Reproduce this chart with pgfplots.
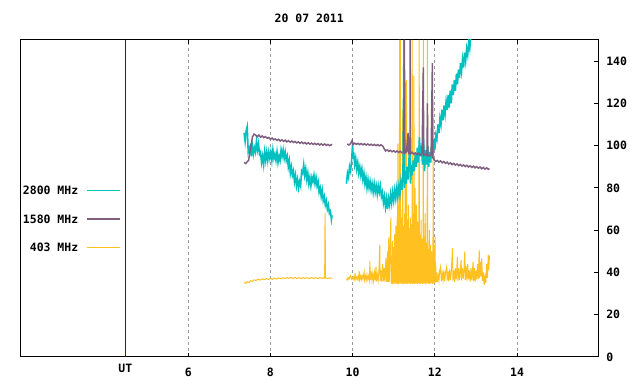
\documentclass[border=0pt]{standalone}
\usepackage{fontspec}
\setmainfont{DejaVu Sans Mono}
\usepackage{pgfplots}
\pgfplotsset{compat=1.18}
\definecolor{cyanc}{HTML}{00C0C0}
\definecolor{purplec}{HTML}{7F5F7F}
\definecolor{yellowc}{HTML}{FFC020}
\definecolor{utred}{HTML}{8B0000}
\definecolor{gridc}{HTML}{999999}
\newcommand{\gfont}{\fontsize{8.6pt}{10pt}\selectfont\bfseries}
\begin{document}
\gfont
\begin{tikzpicture}
\path[use as bounding box] (0,0) rectangle (480pt,288pt);
\begin{axis}[
  at={(15.375pt,20.25pt)}, anchor=south west,
  scale only axis, width=433.125pt, height=237.75pt,
  xmin=1.92, xmax=15.97, ymin=0, ymax=150,
  axis line style={line width=0.75pt},
  xtick={6,8,10,12,14},
  ytick={0,20,...,140},
  ytick pos=right, yticklabel pos=right,
  tick align=inside,
  major tick length=3pt,
  tick style={black, line width=0.75pt},
  xmajorgrids,
  grid style={gridc, dash pattern=on 2.25pt off 2.25pt, line width=0.75pt},
  extra x ticks={4.47}, extra x tick labels={UT},
  extra x tick style={grid=major, major grid style={utred, solid, line width=0.75pt}, major tick length=0pt, xticklabel style={yshift=3pt}},
  /pgf/number format/assume math mode=true,
  ticklabel style={font=\gfont},
  xticklabel style={anchor=center, inner sep=0pt, yshift=-11.25pt},
  yticklabel style={anchor=west, inner sep=0pt, xshift=6pt},
  title={20 07 2011},
  title style={at={(0.5,1)}, anchor=center, inner sep=0pt, yshift=10.5pt, font=\gfont},
  legend plot pos=right,
  legend cell align=right,
  legend style={at={(0.174,0.435)}, anchor=east, draw=none, fill=none, inner sep=0pt,
    row sep=11.4pt, column sep=5pt, font=\gfont,
    nodes={inner sep=1pt, text height=7pt, text depth=1pt}},
  legend image code/.code={\draw[#1, line width=0.9pt] (0pt,0pt) -- (25pt,0pt);},
  unbounded coords=jump,
]
% 403 MHz (drawn first, underneath)
\addplot[yellowc, line width=0.75pt, forget plot] coordinates {
(7.360,35.5) (7.400,34.8) (7.440,35.6) (7.480,35.2) (7.520,36.1) (7.560,35.8) (7.600,36.5) (7.650,36.2)
(7.700,36.8) (7.750,36.4) (7.800,37) (7.850,36.6) (7.900,37.1) (7.950,36.7) (8.000,37.2) (8.050,36.8)
(8.100,37.3) (8.150,36.9) (8.200,37.4) (8.250,37) (8.300,37.5) (8.350,37.1) (8.400,37.6) (8.450,37.2)
(8.500,37.7) (8.550,37.2) (8.600,37.6) (8.650,37.1) (8.700,37.5) (8.750,37.1) (8.800,37.6) (8.850,37.2)
(8.900,37.5) (8.950,37.1) (9.000,37.6) (9.050,37.2) (9.100,37.5) (9.150,37.1) (9.200,37.6) (9.250,37.2)
(9.300,37.5) (9.320,37.3) (9.330,68) (9.340,37.4) (9.400,37.1) (9.450,37.5) (9.500,37.2)
(9.600,nan)
(9.850,37) (9.870,36.5) (9.890,37.5) (9.910,36.8) (9.930,37.8) (9.950,38.5) (9.970,36.9) (9.990,37.6)
(10.010,36.7) (10.030,38) (10.050,36.8) (10.060,39.7) (10.070,36.9) (10.090,37.8) (10.110,36.6) (10.130,38.2)
(10.150,36.8) (10.160,40.7) (10.170,36.7) (10.190,38.3) (10.210,36.5) (10.230,38.6) (10.250,36.9) (10.280,40)
(10.290,36.6) (10.310,38.5) (10.330,36.4) (10.350,39) (10.370,36.6) (10.390,38.4) (10.410,36.3) (10.420,45.4)
(10.430,36.5) (10.450,40.5) (10.470,36.2) (10.490,39.5) (10.510,36) (10.530,40) (10.550,36.3) (10.570,42.7)
(10.580,35.8) (10.600,39) (10.620,36.1) (10.640,40.5) (10.660,53) (10.670,35.8) (10.690,41) (10.710,35.6)
(10.730,44) (10.750,35.9) (10.770,42) (10.790,35.5) (10.810,47) (10.830,35.7) (10.850,50) (10.860,35.4)
(10.880,56.6) (10.890,35.6) (10.910,48) (10.930,66) (10.940,35.2)
(10.950,35) (10.958,48) (10.966,34.5) (10.974,55) (10.982,35.5) (10.990,44) (10.998,34.8) (11.006,52)
(11.014,35.2) (11.022,58) (11.030,34.6) (11.038,47) (11.046,35.4) (11.054,62) (11.062,34.7) (11.070,53)
(11.078,35.3) (11.086,66) (11.094,34.5) (11.100,101) (11.106,35) (11.114,60) (11.122,34.6) (11.130,72)
(11.138,35.2) (11.142,150) (11.146,34.8) (11.154,58) (11.160,150) (11.166,35.1) (11.174,66) (11.182,34.6)
(11.190,54) (11.198,35.3) (11.206,70) (11.214,34.5) (11.220,117) (11.226,35) (11.234,62) (11.242,34.7)
(11.250,57) (11.258,35.4) (11.266,68) (11.274,34.6) (11.280,130) (11.286,35.1) (11.294,60) (11.302,34.8)
(11.310,131) (11.318,35.2) (11.326,65) (11.334,34.5) (11.342,52) (11.350,35.3) (11.358,72) (11.366,34.7)
(11.374,61) (11.382,35.2) (11.390,55) (11.398,34.6) (11.406,66) (11.414,35) (11.422,50) (11.430,34.8)
(11.438,63) (11.446,35.3) (11.450,150) (11.456,34.6) (11.464,58) (11.472,35.1) (11.480,68) (11.488,34.7)
(11.492,133) (11.498,35.2) (11.506,54) (11.514,34.5) (11.522,80) (11.530,35) (11.538,60) (11.546,34.8)
(11.554,72) (11.562,35.3) (11.570,57) (11.578,34.6) (11.586,64) (11.594,35.1) (11.602,50) (11.610,34.7)
(11.620,150) (11.626,35.2) (11.634,58) (11.642,34.6) (11.650,52) (11.658,35) (11.666,65) (11.674,34.8)
(11.682,48) (11.690,35.3) (11.698,56) (11.706,34.6) (11.714,46) (11.720,150) (11.726,35.1) (11.734,57)
(11.742,34.7) (11.750,50) (11.758,35.2) (11.766,68) (11.774,34.5) (11.782,47) (11.790,35) (11.798,54)
(11.806,34.8) (11.814,45) (11.820,150) (11.826,35.3) (11.834,51) (11.842,34.6) (11.850,44) (11.858,35.1)
(11.866,60) (11.874,34.7) (11.882,46) (11.890,35.2) (11.898,53) (11.906,34.8) (11.914,45) (11.922,35.3)
(11.930,50) (11.938,34.6) (11.946,44) (11.954,35.1) (11.960,113) (11.966,34.8) (11.974,49) (11.982,35.2)
(11.990,53) (11.998,34.7) (12.006,57) (12.014,35.3) (12.022,43) (12.030,35.5)
(12.040,40) (12.060,35.5) (12.080,39) (12.100,36) (12.120,41) (12.140,42.7) (12.160,35.8) (12.180,39.5)
(12.200,36.4) (12.220,41) (12.240,35.9) (12.260,40) (12.290,42.7) (12.300,36.2) (12.320,40.5) (12.340,35.8)
(12.360,41.5) (12.380,36.5) (12.400,40) (12.430,51.5) (12.440,36.2) (12.460,41) (12.480,35.6) (12.500,42)
(12.520,36.8) (12.550,47.5) (12.560,36) (12.580,42) (12.600,36.5) (12.620,41) (12.640,46) (12.650,36.3)
(12.670,42) (12.690,37) (12.710,41.5) (12.730,50) (12.740,36.5) (12.760,43) (12.780,36.2) (12.800,44)
(12.820,36.8) (12.840,41) (12.860,35.7) (12.880,42) (12.900,36.4) (12.930,45) (12.940,36) (12.960,42)
(12.980,35.5) (13.000,41) (13.020,36.8) (13.040,44) (13.060,37) (13.080,50.6) (13.090,37.5) (13.110,45)
(13.130,38) (13.140,46.7) (13.160,36) (13.180,40) (13.200,34) (13.220,38) (13.240,35) (13.260,44)
(13.280,37.5) (13.300,48.2) (13.310,41) (13.330,48)
};
% 2800 MHz
\addplot[cyanc, line width=1.2pt] coordinates {
(7.360,106) (7.385,102) (7.410,107) (7.435,109) (7.460,97) (7.485,99) (7.510,100) (7.535,95)
(7.560,100) (7.585,96) (7.610,99) (7.635,97) (7.660,102) (7.685,98) (7.710,101) (7.735,96)
(7.760,97) (7.785,92) (7.810,95) (7.835,91) (7.860,97) (7.885,93) (7.910,97) (7.935,93)
(7.960,97) (7.985,94) (8.010,97) (8.035,93) (8.060,98) (8.085,94) (8.110,96) (8.135,93)
(8.160,97) (8.185,92) (8.210,95) (8.235,93) (8.260,98) (8.285,95) (8.310,98) (8.335,94)
(8.360,97) (8.385,93) (8.410,95) (8.435,90) (8.460,93) (8.485,87) (8.510,90) (8.535,86)
(8.560,88) (8.585,83) (8.610,86) (8.635,81) (8.660,84) (8.685,80) (8.710,83) (8.735,81)
(8.760,88) (8.785,87) (8.810,91) (8.835,86) (8.860,89) (8.885,84) (8.910,87) (8.935,82)
(8.960,85) (8.985,81) (9.010,85) (9.035,83) (9.060,86) (9.085,82) (9.110,85) (9.135,81)
(9.160,83) (9.185,78) (9.210,80) (9.235,76) (9.260,79) (9.285,74) (9.310,76) (9.335,72)
(9.360,74) (9.385,70) (9.410,72) (9.435,68) (9.460,69) (9.485,65) (9.500,67)
(9.600,nan)
(9.850,82) (9.875,87) (9.900,85) (9.925,90) (9.950,88) (9.975,93) (10.000,101) (10.010,94)
(10.025,97) (10.050,91) (10.075,94) (10.100,89) (10.125,92) (10.150,87) (10.175,90) (10.200,86)
(10.225,89) (10.250,84) (10.275,87) (10.300,82) (10.325,85) (10.350,80) (10.375,84) (10.400,80)
(10.425,83) (10.450,79) (10.475,82) (10.500,78) (10.525,82) (10.550,78) (10.575,81) (10.600,77)
(10.625,81) (10.650,78) (10.675,81) (10.700,76) (10.725,78) (10.750,73) (10.775,76) (10.800,71)
(10.825,75) (10.850,70) (10.875,75) (10.900,72) (10.925,77) (10.950,73) (10.975,78) (11.000,74)
(11.025,79) (11.050,75) (11.075,80) (11.100,76) (11.125,81) (11.150,77) (11.175,83) (11.200,79)
(11.225,86) (11.250,150) (11.260,80) (11.275,88) (11.300,82) (11.325,90) (11.350,84) (11.375,95)
(11.400,100) (11.410,82) (11.425,91) (11.450,86) (11.475,93) (11.500,88) (11.525,96) (11.550,90)
(11.575,99) (11.600,92) (11.625,104) (11.650,95) (11.675,100) (11.700,91) (11.725,103) (11.750,88)
(11.775,98) (11.800,91) (11.825,100) (11.850,90) (11.875,97) (11.900,92) (11.925,101) (11.950,94)
(11.975,103) (12.000,98) (12.025,105) (12.050,103) (12.075,110) (12.100,106) (12.125,113) (12.150,110)
(12.175,117) (12.200,112) (12.225,119) (12.250,115) (12.275,121) (12.300,117) (12.325,124) (12.350,118)
(12.375,126) (12.400,120) (12.425,129) (12.450,124) (12.475,131) (12.500,126) (12.525,134) (12.550,129)
(12.575,136) (12.600,132) (12.625,139) (12.650,135) (12.675,141) (12.700,137) (12.725,144) (12.750,140)
(12.775,146) (12.800,143) (12.825,149) (12.850,146) (12.875,152) (12.900,156)
};
\addlegendentry{2800 MHz}
% 1580 MHz
\addplot[purplec, line width=1.1pt] coordinates {
(7.360,92) (7.400,91.5) (7.440,92.5) (7.470,93) (7.500,97) (7.530,100) (7.560,104) (7.600,105.5)
(7.640,105) (7.680,104.2) (7.720,105) (7.760,104) (7.800,104.6) (7.840,103.8) (7.880,104.3) (7.920,103.5)
(7.960,103.9) (8.000,103) (8.040,103.6) (8.080,102.8) (8.120,103.2) (8.160,102.5) (8.200,103) (8.240,102.2)
(8.280,102.8) (8.320,102) (8.360,102.6) (8.400,101.8) (8.440,102.4) (8.480,101.6) (8.520,102.2) (8.560,101.5)
(8.600,102) (8.640,101.3) (8.680,101.8) (8.720,101.1) (8.760,101.7) (8.800,101) (8.840,101.5) (8.880,100.8)
(8.920,101.4) (8.960,100.7) (9.000,101.2) (9.040,100.6) (9.080,101.1) (9.120,100.5) (9.160,101) (9.200,100.3)
(9.240,100.9) (9.280,100.2) (9.320,100.8) (9.360,100.1) (9.400,100.6) (9.440,100) (9.480,100.5) (9.500,100.2)
(9.600,nan)
(9.870,100.8) (9.910,100.3) (9.950,101) (9.990,102.5) (10.010,100.5) (10.050,101.2) (10.090,100.6) (10.130,101.1)
(10.170,100.5) (10.210,101) (10.250,100.4) (10.290,100.9) (10.330,100.3) (10.370,100.8) (10.410,100.2) (10.450,100.7)
(10.490,100.1) (10.530,100.6) (10.570,100) (10.610,100.5) (10.650,99.9) (10.690,100.4) (10.730,99.9) (10.770,98.5)
(10.800,97.5) (10.840,98) (10.880,97.3) (10.920,97.8) (10.960,97.1) (11.000,97.6) (11.040,96.9) (11.080,97.5)
(11.120,96.8) (11.160,97.4) (11.200,96.6) (11.240,97) (11.260,150) (11.270,96.5) (11.310,97) (11.350,106)
(11.360,96.3) (11.395,96.8) (11.400,150) (11.410,96.2) (11.450,96.8) (11.490,96) (11.530,96.6) (11.570,95.8)
(11.610,96.4) (11.650,95.6) (11.690,96.2) (11.720,137) (11.730,95.5) (11.770,96) (11.810,95.3) (11.820,120)
(11.830,95.8) (11.870,95.1) (11.910,95.7) (11.940,139) (11.950,94.5) (11.980,93.5) (12.020,92.5) (12.060,93)
(12.100,92.2) (12.140,92.8) (12.180,91.9) (12.220,92.5) (12.260,91.6) (12.300,92.2) (12.340,91.3) (12.380,91.9)
(12.420,91) (12.460,91.6) (12.500,90.8) (12.540,91.4) (12.580,90.5) (12.620,91.1) (12.660,90.3) (12.700,90.9)
(12.740,90.1) (12.780,90.7) (12.820,89.9) (12.860,90.5) (12.900,89.7) (12.940,90.3) (12.980,89.5) (13.020,90.1)
(13.060,89.3) (13.100,89.9) (13.140,89.1) (13.180,89.7) (13.220,88.9) (13.260,89.5) (13.300,88.8) (13.330,89.2)
};
\addlegendentry{1580 MHz}
\addlegendimage{yellowc, line width=0.9pt}
\addlegendentry{403 MHz}
\end{axis}
\end{tikzpicture}
\end{document}
